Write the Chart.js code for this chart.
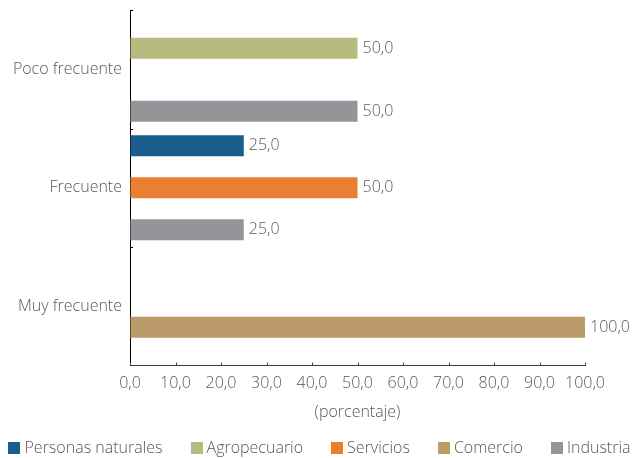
<!DOCTYPE html>
<html>
<head>
<meta charset="utf-8">
<script src="https://cdn.jsdelivr.net/npm/chart.js@4.4.1/dist/chart.umd.min.js"></script>
<style>
html,body{margin:0;padding:0;background:#fff;}
#wrap{width:633px;height:458px;position:relative;}
</style>
</head>
<body>
<div id="wrap"><canvas id="c"></canvas></div>
<script>
const categories = ['Poco frecuente', 'Frecuente', 'Muy frecuente'];
const personasNaturales = [null, 25, null];
const agropecuario = [50, null, null];
const servicios = [null, 50, null];
const comercio = [null, null, 100];
const industria = [50, 25, null];
const xTicks = [0, 10, 20, 30, 40, 50, 60, 70, 80, 90, 100];

const FONT = "'Open Sans', sans-serif";
const FW = 300;
const FS = 16;
const TXT = '#595959';
const fmt = v => Number(v).toFixed(1).replace('.', ',');

const labelPlugin = {
  id: 'barLabels',
  afterDatasetsDraw(chart) {
    const ctx = chart.ctx;
    ctx.save();
    ctx.font = FW + ' ' + FS + 'px ' + FONT;
    ctx.fillStyle = TXT;
    ctx.textAlign = 'left';
    ctx.textBaseline = 'middle';
    chart.data.datasets.forEach((ds, i) => {
      const meta = chart.getDatasetMeta(i);
      meta.data.forEach((bar, j) => {
        const v = ds.data[j];
        if (v === null || v === undefined) return;
        ctx.fillText(fmt(v), bar.x + 5, bar.y);
      });
    });
    ctx.restore();
  }
};

const innerTicks = {
  id: 'innerTicks',
  afterDraw(chart) {
    const ctx = chart.ctx;
    const xs = chart.scales.x;
    const ys = chart.scales.y;
    const a = chart.chartArea;
    ctx.save();
    ctx.strokeStyle = '#404040';
    ctx.lineWidth = 1;
    xTicks.forEach(t => {
      const px = Math.round(xs.getPixelForValue(t)) + 0.5;
      ctx.beginPath();
      ctx.moveTo(px, a.bottom);
      ctx.lineTo(px, a.bottom - 3);
      ctx.stroke();
    });
    const bounds = [a.top];
    for (let i = 0; i < categories.length - 1; i++) {
      bounds.push((ys.getPixelForValue(i) + ys.getPixelForValue(i + 1)) / 2);
    }
    ctx.strokeStyle = '#000';
    bounds.forEach(b => {
      const py = Math.round(b) + 0.5;
      ctx.beginPath();
      ctx.moveTo(a.left, py);
      ctx.lineTo(a.left + 3, py);
      ctx.stroke();
    });
    ctx.restore();
  }
};

const legendPlugin = {
  id: 'customLegend',
  afterDraw(chart) {
    const ctx = chart.ctx;
    const ds = chart.data.datasets;
    const box = 12, textGap = 4, gap = 28;
    ctx.save();
    ctx.font = FW + ' ' + FS + 'px ' + FONT;
    const widths = ds.map(d => box + textGap + ctx.measureText(d.label).width);
    const total = widths.reduce((s, w) => s + w, 0) + gap * (ds.length - 1);
    let x = (chart.width - total) / 2 + 3;
    const cy = chart.height - 10;
    ctx.textBaseline = 'middle';
    ctx.textAlign = 'left';
    ds.forEach((d, i) => {
      ctx.fillStyle = d.backgroundColor;
      ctx.fillRect(Math.round(x), Math.round(cy - box / 2), box, box);
      ctx.fillStyle = TXT;
      ctx.fillText(d.label, x + box + textGap, cy);
      x += widths[i] + gap;
    });
    ctx.restore();
  }
};

new Chart(document.getElementById('c'), {
  type: 'bar',
  data: {
    labels: categories,
    datasets: [
      { label: 'Personas naturales', data: personasNaturales, backgroundColor: '#1a5d8c' },
      { label: 'Agropecuario', data: agropecuario, backgroundColor: '#b8bb7e' },
      { label: 'Servicios', data: servicios, backgroundColor: '#e97f32' },
      { label: 'Comercio', data: comercio, backgroundColor: '#bb9b69' },
      { label: 'Industria', data: industria, backgroundColor: '#939598' }
    ]
  },
  options: {
    indexAxis: 'y',
    responsive: true,
    maintainAspectRatio: false,
    animation: false,
    barPercentage: 1.0,
    categoryPercentage: 0.885,
    layout: { padding: { top: 10, right: 48, bottom: 36, left: 0 } },
    scales: {
      x: {
        min: 0, max: 100,
        afterBuildTicks(scale) { scale.ticks = xTicks.map(v => ({ value: v })); },
        ticks: {
          font: { family: FONT, size: FS, weight: FW }, color: TXT, padding: 8,
          callback: v => fmt(v), maxRotation: 0, autoSkip: false
        },
        grid: { display: true, drawOnChartArea: false, drawTicks: false },
        border: { display: true, color: '#404040', width: 1 },
        title: { display: true, text: '(porcentaje)', font: { family: FONT, size: FS, weight: FW }, color: TXT, padding: { top: 2, bottom: 0 } }
      },
      y: {
        afterFit(scale) { scale.width = 130; scale.paddingTop = 0; scale.paddingBottom = 0; },
        ticks: { font: { family: FONT, size: FS, weight: FW }, color: TXT, padding: 8 },
        grid: { display: true, drawOnChartArea: false, drawTicks: false },
        border: { display: true, color: '#000', width: 1 }
      }
    },
    plugins: {
      legend: { display: false },
      tooltip: { enabled: false }
    }
  },
  plugins: [labelPlugin, innerTicks, legendPlugin]
});
</script>
</body>
</html>
